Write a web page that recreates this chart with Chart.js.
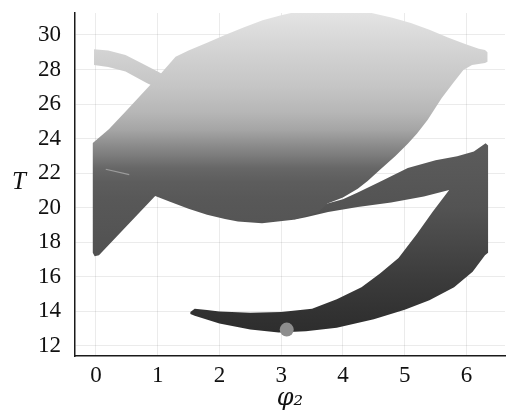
<!DOCTYPE html>
<html>
<head>
<meta charset="utf-8">
<script src="https://cdn.jsdelivr.net/npm/chart.js@4/dist/chart.umd.min.js"></script>
<style>
  html, body { margin: 0; padding: 0; background: #ffffff; }
  #wrap { width: 512px; height: 416px; }
</style>
</head>
<body>
<div id="wrap"><canvas id="c" width="512" height="416"></canvas></div>
<script>
// Axis ticks
const phiTicks = [0, 1, 2, 3, 4, 5, 6];
const tempTicks = [12, 14, 16, 18, 20, 22, 24, 26, 28, 30];

// Warm region (upper lens joined to the left wedge), outline as (phi2, T)
const warmPhi = [-0.05, 0.21, 0.5, 0.8, 1.05, 1.29, 1.5, 1.8, 2.09, 2.4, 2.7, 3.0, 3.3, 3.6, 3.9, 4.2, 4.5, 4.8, 5.1, 5.4, 5.7, 6.0, 6.2, 6.3, 6.34, 6.34, 6.3,
  6.09, 5.95, 5.8, 5.6, 5.37, 5.2, 5.05, 4.85, 4.6, 4.4, 4.24, 4.0, 3.75, 3.6,
  3.2, 2.69, 2.3, 2.09, 1.8, 1.5, 1.2, 0.96, 0.05, -0.02, -0.05];
const warmT = [23.75, 24.55, 25.65, 26.8, 27.75, 28.74, 29.1, 29.55, 30.0, 30.45, 30.85, 31.15, 31.38, 31.52, 31.55, 31.45, 31.25, 31.0, 30.7, 30.3, 29.85, 29.45, 29.2, 29.13, 29.0, 28.45, 28.38,
  28.26, 27.97, 27.3, 26.35, 25.08, 24.3, 23.7, 23.0, 22.2, 21.55, 21.1, 20.6, 20.25, 19.75,
  19.3, 19.1, 19.2, 19.35, 19.6, 19.95, 20.35, 20.68, 17.25, 17.2, 17.4];

// Thin branch entering from the upper left
const branchPhi = [-0.03, 0.2, 0.48, 0.75, 1.0, 1.2, 1.4, 1.2, 0.83, 0.48, 0.2, -0.03];
const branchT = [29.17, 29.1, 28.84, 28.35, 27.88, 27.5, 27.0, 26.6, 27.2, 27.88, 28.15, 28.26];

// Cold branches: lower crescent joined to the middle arm on the right
const coldPhi = [1.53, 1.6, 1.8, 2.0, 2.5, 3.0, 3.5, 3.9, 4.3, 4.6, 4.9, 5.2, 5.45, 5.72,
  5.31, 4.78, 4.24, 3.76, 3.4, 3.2, 3.4, 3.6, 3.75,
  4.0, 4.24, 4.6, 5.05, 5.5, 5.85, 6.12, 6.31, 6.35, 6.35, 6.3,
  6.1, 5.8, 5.4, 5.0, 4.5, 3.9, 3.4, 2.96, 2.5, 2.0, 1.6, 1.53];
const coldT = [13.97, 14.15, 14.08, 14.0, 13.92, 13.97, 14.15, 14.7, 15.4, 16.2, 17.1, 18.5, 19.75, 21.03,
  20.65, 20.3, 20.05, 19.75, 19.45, 19.3, 19.75, 20.05, 20.25,
  20.5, 20.88, 21.5, 22.3, 22.75, 22.98, 23.25, 23.73, 23.6, 17.4, 17.25,
  16.3, 15.4, 14.65, 14.1, 13.55, 13.05, 12.85, 12.78, 12.95, 13.3, 13.75, 13.85];

// Faint seam inside the left wedge
const seamPhi = [0.16, 0.54];
const seamT = [22.23, 21.92];

// Marked state
const markPhi = [3.09];
const markT = [12.95];

const toPoints = (xs, ys) => xs.map((x, i) => ({ x: x, y: ys[i] }));

// Grey ramps keyed by temperature
const warmRamp = [[17, '#505050'], [19, '#555555'], [20.5, '#585858'], [21.5, '#5d5d5d'], [22.3, '#676767'],
  [23, '#7b7b7b'], [23.7, '#8e8e8e'], [24.5, '#a5a5a5'], [25.5, '#b6b6b6'], [27, '#c5c5c5'],
  [28.5, '#cfcfcf'], [30, '#dadada'], [31.6, '#e6e6e6']];
const coldRamp = [[12.7, '#2d2d2d'], [14, '#323232'], [16, '#3c3c3c'], [18, '#484848'], [20, '#535353'],
  [22, '#585858'], [24, '#5c5c5c']];

function rampFill(stops) {
  return (ctx) => {
    const chart = ctx.chart;
    if (!chart.chartArea) return '#888';
    const ys = chart.scales.y;
    const lo = stops[0][0], hi = stops[stops.length - 1][0];
    const g = chart.ctx.createLinearGradient(0, ys.getPixelForValue(lo), 0, ys.getPixelForValue(hi));
    stops.forEach(([t, c]) => g.addColorStop((t - lo) / (hi - lo), c));
    return g;
  };
}

const regionStyle = {
  showLine: true,
  fill: 'shape',
  borderColor: 'rgba(0,0,0,0)',
  borderWidth: 1,
  pointRadius: 0,
  pointHoverRadius: 0,
  tension: 0
};

// Horizontal T label beside the vertical axis
const sideLabel = {
  id: 'sideLabel',
  afterDraw(chart) {
    const { ctx, chartArea } = chart;
    ctx.save();
    ctx.fillStyle = '#111';
    ctx.font = 'italic 25px "Liberation Serif", serif';
    ctx.textAlign = 'center';
    ctx.textBaseline = 'alphabetic';
    ctx.fillText('T', chartArea.left - 56, (chartArea.top + chartArea.bottom) / 2 + 4);
    ctx.restore();
  }
};

const tickFont = { family: '"Liberation Serif", serif', size: 23, lineHeight: 1 };

new Chart(document.getElementById('c'), {
  type: 'scatter',
  data: {
    datasets: [
      { data: toPoints(markPhi, markT), showLine: false, pointRadius: 7, pointHoverRadius: 7,
        backgroundColor: '#8d8d8d', borderColor: '#8d8d8d', borderWidth: 0 },
      { data: toPoints(seamPhi, seamT), showLine: true, fill: false, pointRadius: 0,
        borderColor: 'rgba(170,170,170,0.8)', borderWidth: 1.2 },
      Object.assign({ data: toPoints(branchPhi, branchT), backgroundColor: rampFill(warmRamp) }, regionStyle),
      Object.assign({ data: toPoints(warmPhi, warmT), backgroundColor: rampFill(warmRamp) }, regionStyle),
      Object.assign({ data: toPoints(coldPhi, coldT), backgroundColor: rampFill(coldRamp) }, regionStyle)
    ]
  },
  options: {
    responsive: false,
    animation: false,
    events: [],
    layout: { padding: { top: 13, right: 4, left: 0, bottom: 0 } },
    plugins: { legend: { display: false }, tooltip: { enabled: false } },
    scales: {
      x: {
        type: 'linear',
        min: -0.338,
        max: 6.624,
        afterBuildTicks: (s) => { s.ticks = phiTicks.map(v => ({ value: v })); },
        afterFit: (s) => { s.height = 60; s.paddingLeft = 0; s.paddingRight = 0; },
        grid: { color: 'rgba(0,0,0,0.08)', drawTicks: false },
        border: { color: '#1a1a1a', width: 1.5 },
        ticks: { font: tickFont, color: '#111', padding: 8, maxRotation: 0 },
        title: { display: true, text: 'φ₂', color: '#111',
          font: { family: '"DejaVu Serif", serif', size: 24, style: 'italic', lineHeight: 1 },
          padding: { top: 0, bottom: 5 } }
      },
      y: {
        type: 'linear',
        min: 11.421,
        max: 31.273,
        afterBuildTicks: (s) => { s.ticks = tempTicks.map(v => ({ value: v })); },
        afterFit: (s) => { s.width = 75; s.paddingTop = 0; s.paddingBottom = 0; },
        grid: { color: 'rgba(0,0,0,0.08)', drawTicks: false },
        border: { color: '#1a1a1a', width: 1.5 },
        ticks: { font: tickFont, color: '#111', padding: 14 }
      }
    }
  },
  plugins: [sideLabel]
});
</script>
</body>
</html>
